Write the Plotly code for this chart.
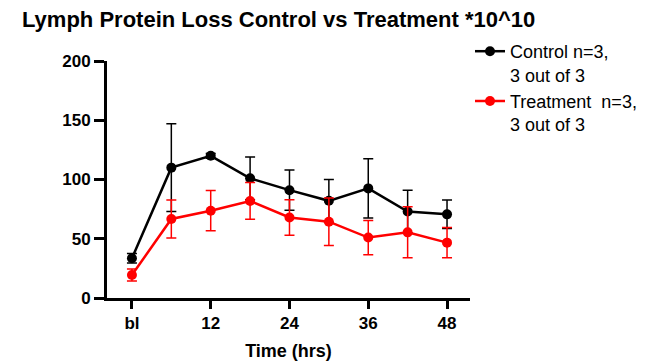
import plotly.graph_objects as go

time_hrs = [0, 6, 12, 18, 24, 30, 36, 42, 48]
x_tick_vals = [0, 12, 24, 36, 48]
x_tick_text = ["bl", "12", "24", "36", "48"]
y_tick_vals = [0, 50, 100, 150, 200]

control_mean = [33.5, 110, 120, 101, 91, 82, 92.5, 73, 70.6]
control_err = [4, 37, 2, 18, 17, 18, 25, 18, 12]
treatment_mean = [19.4, 66.7, 73.7, 81.9, 68, 64.4, 51, 55.4, 46.7]
treatment_err = [5, 16, 17, 15.5, 15, 20, 14.5, 21.5, 12.7]

FONT = "Liberation Sans, Arial, sans-serif"
W, H = 649, 361

fig = go.Figure()
fig.add_trace(go.Scatter(
    x=time_hrs, y=control_mean, mode="lines+markers",
    name="Control n=3,<br>3 out of 3",
    line=dict(color="black", width=2.5),
    marker=dict(color="black", size=10),
    error_y=dict(type="data", array=control_err, visible=True, color="black", thickness=1.5, width=5),
    cliponaxis=False,
))
fig.add_trace(go.Scatter(
    x=time_hrs, y=treatment_mean, mode="lines+markers",
    name="Treatment\u00a0 n=3,<br>3 out of 3",
    line=dict(color="#ff0000", width=2.5),
    marker=dict(color="#ff0000", size=10),
    error_y=dict(type="data", array=treatment_err, visible=True, color="#ff0000", thickness=1.5, width=5),
    cliponaxis=False,
))

fig.update_layout(
    width=W, height=H,
    margin=dict(l=107, r=179, t=61, b=63, autoexpand=False),
    paper_bgcolor="white", plot_bgcolor="white",
    font=dict(family=FONT, color="black"),
    title=dict(text="<b>Lymph Protein Loss Control vs Treatment *10^10</b>",
               font=dict(size=22, family=FONT, color="black"),
               x=22 / W, xanchor="left", xref="container",
               y=1 - 19 / H, yanchor="middle", yref="container"),
    showlegend=True,
    legend=dict(x=470 / W, xanchor="left", xref="container",
                y=1 - 33 / H, yanchor="top", yref="container",
                font=dict(size=18, family=FONT, color="black"),
                valign="top", itemwidth=30,
                bgcolor="rgba(0,0,0,0)"),
    xaxis=dict(range=[-3.8, 51.5], tickvals=x_tick_vals, ticktext=x_tick_text,
               showgrid=False, zeroline=False, showline=True, linecolor="black", linewidth=3,
               ticks="outside", ticklen=8, tickwidth=2.5, tickcolor="black",
               tickfont=dict(size=17, family=FONT, color="black", weight="bold"),
               title=dict(text="<b>Time (hrs)</b>", font=dict(size=18, family=FONT, color="black"))),
    yaxis=dict(range=[0, 200], tickvals=y_tick_vals,
               showgrid=False, zeroline=False, showline=True, linecolor="black", linewidth=3,
               ticks="outside", ticklen=10, tickwidth=2.5, tickcolor="black",
               tickfont=dict(size=17, family=FONT, color="black", weight="bold")),
)

fig.write_html("out.html",
               config={"displayModeBar": False},
               post_script="document.body.style.margin='0';document.body.style.padding='0';")
